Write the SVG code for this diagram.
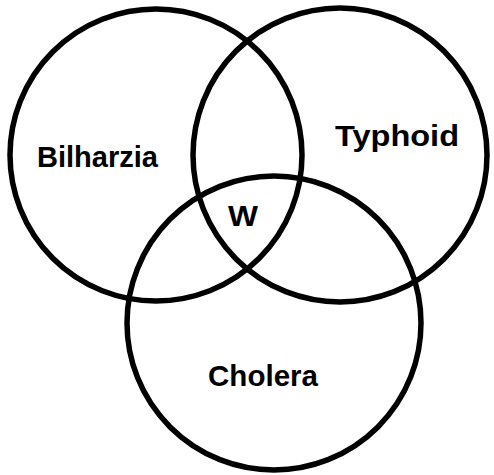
<svg xmlns="http://www.w3.org/2000/svg" width="494" height="475" viewBox="0 0 494 475">
<style>
.c{fill:none;stroke:#000;stroke-width:5.5}
.t{font-family:"Liberation Sans",Arial,sans-serif;font-weight:bold;font-size:30px;fill:#000}
</style>
<rect width="494" height="475" fill="#fff"/>
<g id="bilharzia">
<circle class="c" cx="156" cy="155" r="146"/>
<text class="t" x="37" y="167" textLength="121" lengthAdjust="spacingAndGlyphs">Bilharzia</text>
</g>
<g id="typhoid">
<circle class="c" cx="340" cy="155" r="147"/>
<text class="t" x="335" y="146" textLength="124" lengthAdjust="spacingAndGlyphs">Typhoid</text>
</g>
<g id="cholera">
<circle class="c" cx="274" cy="323" r="147"/>
<text class="t" x="208" y="386" textLength="110" lengthAdjust="spacingAndGlyphs">Cholera</text>
</g>
<g id="w">
<text class="t" x="228" y="226" textLength="30" lengthAdjust="spacingAndGlyphs">W</text>
</g>
</svg>
